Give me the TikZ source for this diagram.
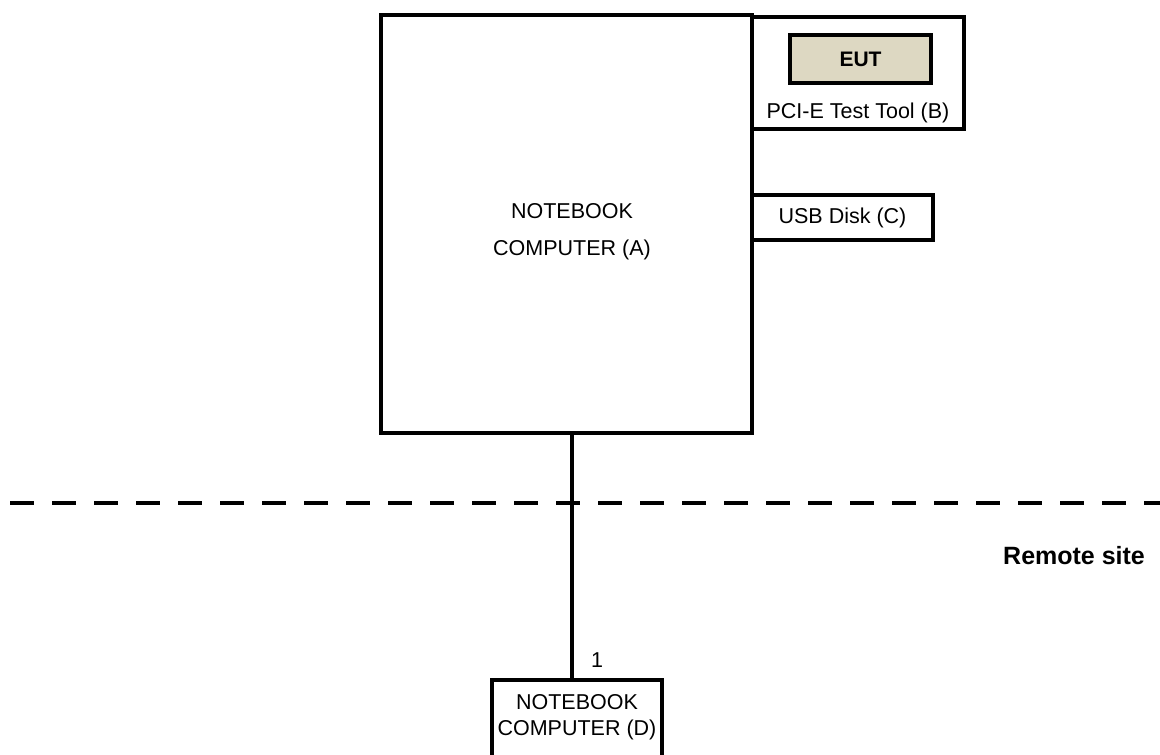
\documentclass[tikz,border=0pt]{standalone}
\usepackage{fontspec}
\setmainfont{Liberation Sans}
\usetikzlibrary{positioning}
\definecolor{eutfill}{RGB}{221,216,194}

\begin{document}
\begin{tikzpicture}
[
    x=1pt, y=-1pt,
    box/.style={draw, line width=3.5pt, inner sep=0pt, align=center, font=\fontsize{21.5}{26}\selectfont},
    txt/.style={inner sep=0pt, align=center, font=\fontsize{21.5}{26}\selectfont},
]
\useasboundingbox (0,0) rectangle (1160,755);
\clip (0,0) rectangle (1160,755);
% local site
\node [box, minimum width=371pt, minimum height=418pt] (pca) at (566.5,224) {};
\node [txt, font=\fontsize{21.5}{37}\selectfont] (pcatxt) at (572,232) {NOTEBOOK\\COMPUTER (A)};
\node [box, minimum width=212pt, minimum height=112pt] (tool) at (858,73) {};
\node [box, fill=eutfill, minimum width=141pt, minimum height=48pt, font=\fontsize{21}{24}\selectfont\bfseries] (eut) at (860.5,59) {EUT};
\node [txt] (tooltxt) at (858,113) {PCI-E Test Tool (B)};
\node [box, minimum width=181pt, minimum height=45pt] (usb) at (842.5,217.5) {USB Disk (C)};
% remote site
\node [box, minimum width=170pt, minimum height=100pt, anchor=north] (pcd) at (577,678) {};
\node [txt] (pcdtxt) at (577,717) {NOTEBOOK\\COMPUTER (D)};
\node [txt] (port) at (597,660) {1};
\node [txt, font=\fontsize{25}{30}\selectfont\bfseries, anchor=base west] (remote) at (1003,564) {Remote site};
\coordinate (sepl) at (10,503);
\coordinate (sepr) at (1160,503);
\draw [line width=4pt, dash pattern=on 24pt off 18pt] (sepl) -- (sepr);
\draw [line width=3.5pt] ([xshift=5.5pt]pca.south) -- ([xshift=5.5pt]pca.south |- pcd.north);
\end{tikzpicture}
\end{document}
